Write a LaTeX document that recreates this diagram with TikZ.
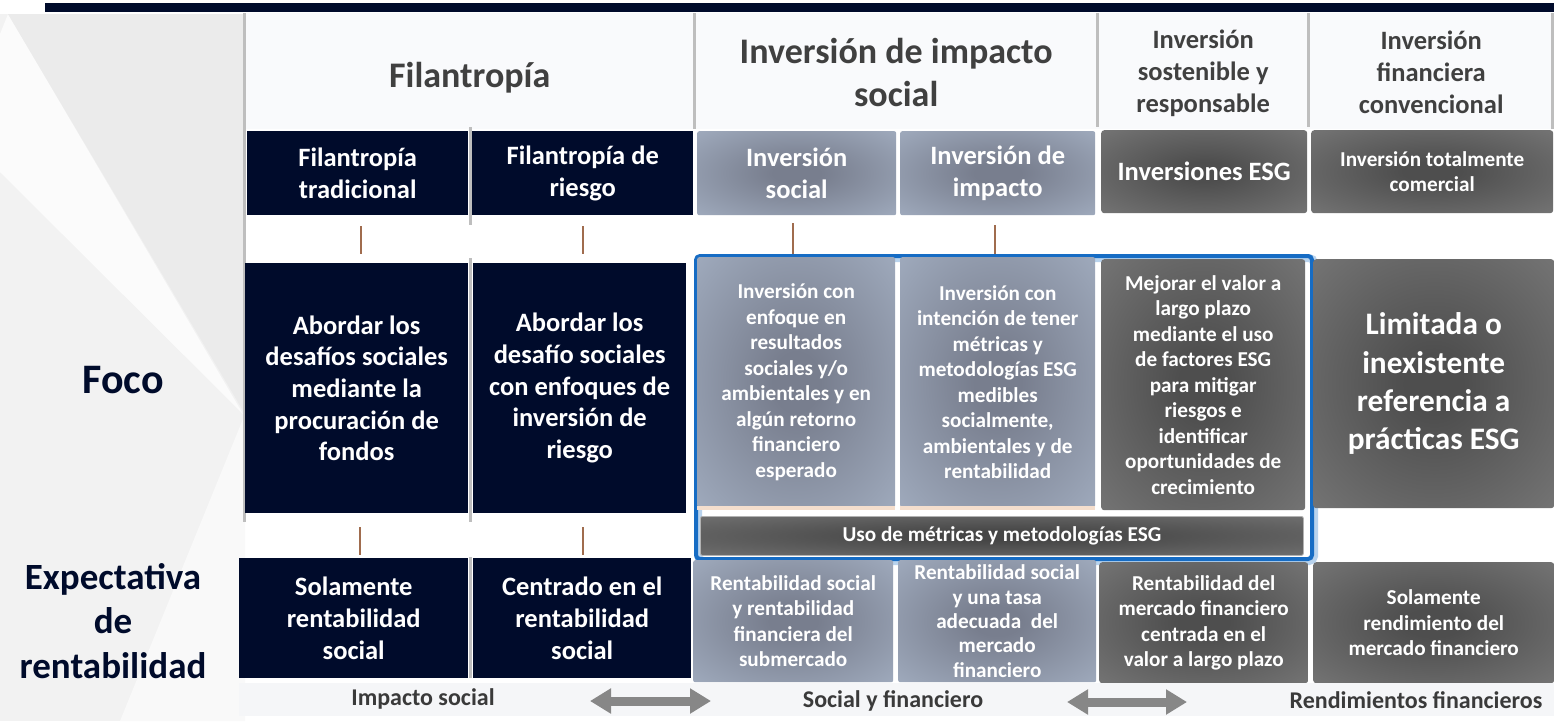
\documentclass[tikz,border=0pt]{standalone}
\usepackage{fontspec}
\setmainfont{Carlito}
\usetikzlibrary{calc,arrows.meta}
\definecolor{navy}{RGB}{0,11,43}
\definecolor{hdrtxt}{RGB}{64,64,64}
\definecolor{hdrbg}{RGB}{249,250,252}
\definecolor{lbin}{RGB}{120,126,142}
\definecolor{lbout}{RGB}{167,179,198}
\definecolor{gbin}{RGB}{78,78,78}
\definecolor{gbout}{RGB}{124,124,124}
\definecolor{ubin}{RGB}{70,70,70}
\definecolor{ubout}{RGB}{124,124,124}
\definecolor{sepgray}{RGB}{190,190,190}
\definecolor{bluebd}{RGB}{22,108,196}
\definecolor{connc}{RGB}{160,108,78}
\definecolor{arrowgray}{RGB}{135,135,135}
\definecolor{foottxt}{RGB}{58,58,58}
\definecolor{peach}{RGB}{244,222,205}
\definecolor{bandbg}{RGB}{245,246,248}
\pgfdeclareradialshading{lightrad}{\pgfpoint{0bp}{0bp}}{color(0bp)=(lbin); color(6bp)=(lbin); color(42bp)=(lbout); color(50bp)=(lbout)}
\pgfdeclareradialshading{grayrad}{\pgfpoint{0bp}{0bp}}{color(0bp)=(gbin); color(6bp)=(gbin); color(42bp)=(gbout); color(50bp)=(gbout)}
\pgfdeclareradialshading{barrad}{\pgfpoint{0bp}{0bp}}{color(0bp)=(ubin); color(6bp)=(ubin); color(45bp)=(ubout); color(50bp)=(ubout)}
\newcommand\szHead{\fontsize{36}{43}\selectfont}
\newcommand\szMid{\fontsize{26.5}{31.7}\selectfont}
\newcommand\szSmall{\fontsize{21.2}{25.5}\selectfont}
\newcommand\szTight{\fontsize{21.2}{24.3}\selectfont}
\newcommand\szLim{\fontsize{31.3}{38.3}\selectfont}
\newcommand\szSide{\fontsize{37}{44.5}\selectfont}
\newcommand\szFoco{\fontsize{42}{48}\selectfont}
\newcommand\szFoot{\fontsize{24}{28}\selectfont}
\tikzset{
  cell/.style={anchor=north west, inner sep=0pt, align=center},
  darkcell/.style={cell, fill=navy, text=white},
  lightcell/.style={cell, shading=lightrad, text=white, rounded corners=2pt},
  graycell/.style={cell, shading=grayrad, text=white, rounded corners=3pt},
  hdrcell/.style={cell, text=hdrtxt},
  sep/.style={sepgray, line width=3pt},
  connline/.style={connc, line width=2.2pt},
  dblarrow/.style={arrowgray, line width=9pt, {Triangle[length=21pt,width=24pt]}-{Triangle[length=21pt,width=24pt]}},
  sidelabel/.style={text=navy, align=center, inner sep=0pt},
  footlabel/.style={text=foottxt, inner sep=0pt, font=\bfseries\szFoot}
}
\begin{document}
\begin{tikzpicture}[x=1pt,y=-1pt]
\useasboundingbox (0,0) rectangle (1554,721);
\fill[white] (0,0) rectangle (1554,721);
% left decorative background
\fill[white!95!black] (0,14) rectangle (245,721);
\fill[white!98.5!black] (8,14) -- (243,414) -- (0,172) -- (0,34) -- cycle;
\fill[white!92!black] (8,14) -- (245,14) -- (245,414) -- cycle;
\fill[white!97.5!black] (245,414) -- (245,721) -- (120,721) -- cycle;
% top bar and header background
\fill[navy] (45,3) rectangle (1554,12);
\fill[hdrbg] (246,13) rectangle (1552,129);
% separators
\draw[sep] (244.5,13) -- (244.5,522);
\draw[sep] (470,127) -- (470,225);
\draw[sep] (470,258) -- (470,522);
\draw[sep] (470,557) -- (470,678);
\draw[sep] (694.5,13) -- (694.5,129);
\draw[sep] (1097.5,13) -- (1097.5,127);
\draw[sep] (1308.5,13) -- (1308.5,127);
\draw[sep] (1552.5,13) -- (1552.5,129);
% header row
\node[hdrcell, minimum width=447pt, minimum height=116pt, font=\bfseries\szHead, yshift=-6pt] (hF) at (246,13) {Filantropía};
\node[hdrcell, minimum width=400pt, minimum height=116pt, font=\bfseries\szHead, yshift=-1pt] (hI) at (696,13) {Inversión de impacto\\social};
\node[hdrcell, minimum width=208pt, minimum height=116pt, font=\bfseries\szMid, yshift=-2pt] (hS) at (1099,13) {Inversión\\sostenible y\\responsable};
\node[hdrcell, minimum width=242pt, minimum height=116pt, font=\bfseries\szMid, yshift=-1pt] (hC) at (1310,13) {Inversión\\financiera\\convencional};
% sub-header row
\node[darkcell, minimum width=221pt, minimum height=84pt, font=\bfseries\szMid] (sT) at (247,131) {Filantropía\\tradicional};
\node[darkcell, minimum width=221pt, minimum height=84pt, font=\bfseries\szMid] (sR) at (472,131) {Filantropía de\\riesgo};
\node[lightcell, minimum width=199pt, minimum height=84pt, font=\bfseries\szMid] (sS) at (697,131) {Inversión\\social};
\node[lightcell, minimum width=195pt, minimum height=84pt, font=\bfseries\szMid] (sI) at (900,131) {Inversión de\\impacto};
\node[graycell, minimum width=206pt, minimum height=83pt, font=\bfseries\szMid] (sE) at (1101,130) {Inversiones ESG};
\node[graycell, minimum width=242pt, minimum height=83pt, font=\bfseries\szSmall] (sC) at (1311,130) {Inversión totalmente\\comercial};
% blue group border
\node[cell, draw=bluebd!30, line width=8pt, rounded corners=5pt, minimum width=616pt, minimum height=303pt] (grpglow) at (694,254) {};
\node[cell, draw=bluebd, line width=4pt, rounded corners=4pt, minimum width=616pt, minimum height=303pt] (grp) at (694,254) {};
% focus row
\node[darkcell, minimum width=223pt, minimum height=250pt, font=\bfseries\szMid] (fT) at (245,263) {Abordar los\\desafíos sociales\\mediante la\\procuración de\\fondos};
\node[darkcell, minimum width=213pt, minimum height=250pt, font=\bfseries\szMid] (fR) at (473,263) {Abordar los\\desafío sociales\\con enfoques de\\inversión de\\riesgo};
\node[lightcell, minimum width=198pt, minimum height=250pt, font=\bfseries\szSmall] (fS) at (697,257) {Inversión con\\enfoque en\\resultados\\sociales y/o\\ambientales y en\\algún retorno\\financiero\\esperado};
\node[lightcell, minimum width=195pt, minimum height=250pt, font=\bfseries\szSmall] (fI) at (900,257) {Inversión con\\intención de tener\\métricas y\\metodologías ESG\\medibles\\socialmente,\\ambientales y de\\rentabilidad};
\fill[peach] (697,506) rectangle (895,510);
\fill[peach] (900,506) rectangle (1095,510);
\node[graycell, minimum width=204pt, minimum height=251pt, font=\bfseries\szSmall] (fM) at (1101,259) {Mejorar el valor a\\largo plazo\\mediante el uso\\de factores ESG\\para mitigar\\riesgos e\\identificar\\oportunidades de\\crecimiento};
\node[graycell, minimum width=241pt, minimum height=249pt, font=\bfseries\szLim] (fL) at (1313,259) {Limitada o\\inexistente\\referencia a\\prácticas ESG};
% ESG metrics bar
\node[cell, draw=white!70!black, line width=0.8pt, shading=barrad, text=white, rounded corners=2pt, minimum width=603pt, minimum height=39pt, font=\bfseries\szSmall] (uB) at (700,516) {Uso de métricas y metodologías ESG};
% expectation row
\node[darkcell, minimum width=229pt, minimum height=120pt, font=\bfseries\szMid] (eT) at (239,558) {Solamente\\rentabilidad\\social};
\node[darkcell, minimum width=218pt, minimum height=120pt, font=\bfseries\szMid] (eR) at (473,558) {Centrado en el\\rentabilidad\\social};
\node[lightcell, minimum width=200pt, minimum height=122pt, font=\bfseries\szSmall] (eS) at (693,560) {Rentabilidad social\\y rentabilidad\\financiera del\\submercado};
\node[lightcell, minimum width=198pt, minimum height=122pt, font=\bfseries\szTight] (eI) at (898,560) {Rentabilidad social\\y una tasa\\adecuada\ \ del\\mercado\\financiero};
\node[graycell, minimum width=209pt, minimum height=121pt, font=\bfseries\szSmall] (eM) at (1099,562) {Rentabilidad del\\mercado financiero\\centrada en el\\valor a largo plazo};
\node[graycell, minimum width=241pt, minimum height=121pt, font=\bfseries\szSmall] (eL) at (1313,562) {Solamente\\rendimiento del\\mercado financiero};
% bottom band
\fill[bandbg] (239,683) rectangle (1554,716);
\node[footlabel] (fImp) at (423,699) {Impacto social};
\node[footlabel] (fSoc) at (893,701) {Social y financiero};
\node[footlabel] (fRen) at (1416,700) {Rendimientos financieros};
\coordinate (a1l) at (590,701);
\coordinate (a1r) at (711,701);
\coordinate (a2l) at (1067,702);
\coordinate (a2r) at (1187,702);
\draw[dblarrow] (a1l) -- (a1r);
\draw[dblarrow] (a2l) -- (a2r);
% side labels
\node[sidelabel, font=\bfseries\szFoco] (lFoco) at (123,380) {Foco};
\node[sidelabel, font=\bfseries\szSide] (lExp) at (113,621) {Expectativa\\de\\rentabilidad};
% connectors
\draw[connline, shorten <=11pt, shorten >=9pt] ([xshift=3.5pt]sT.south) -- ([xshift=3.5pt]sT.south |- fT.north);
\draw[connline, shorten <=11pt, shorten >=9pt] (sR.south) -- (sR.south |- fR.north);
\draw[connline, shorten <=8pt] ([xshift=-3.5pt]sS.south) -- ([xshift=-3.5pt]sS.south |- grp.north);
\draw[connline, shorten <=10pt] ([xshift=-2.5pt]sI.south) -- ([xshift=-2.5pt]sI.south |- grp.north);
\draw[connline, shorten <=14pt, shorten >=3pt] ([xshift=3.5pt]fT.south) -- ([xshift=3.5pt]fT.south |- eT.north);
\draw[connline, shorten <=14pt, shorten >=3pt] ([xshift=3.5pt]fR.south) -- ([xshift=3.5pt]fR.south |- eR.north);
\end{tikzpicture}
\end{document}
